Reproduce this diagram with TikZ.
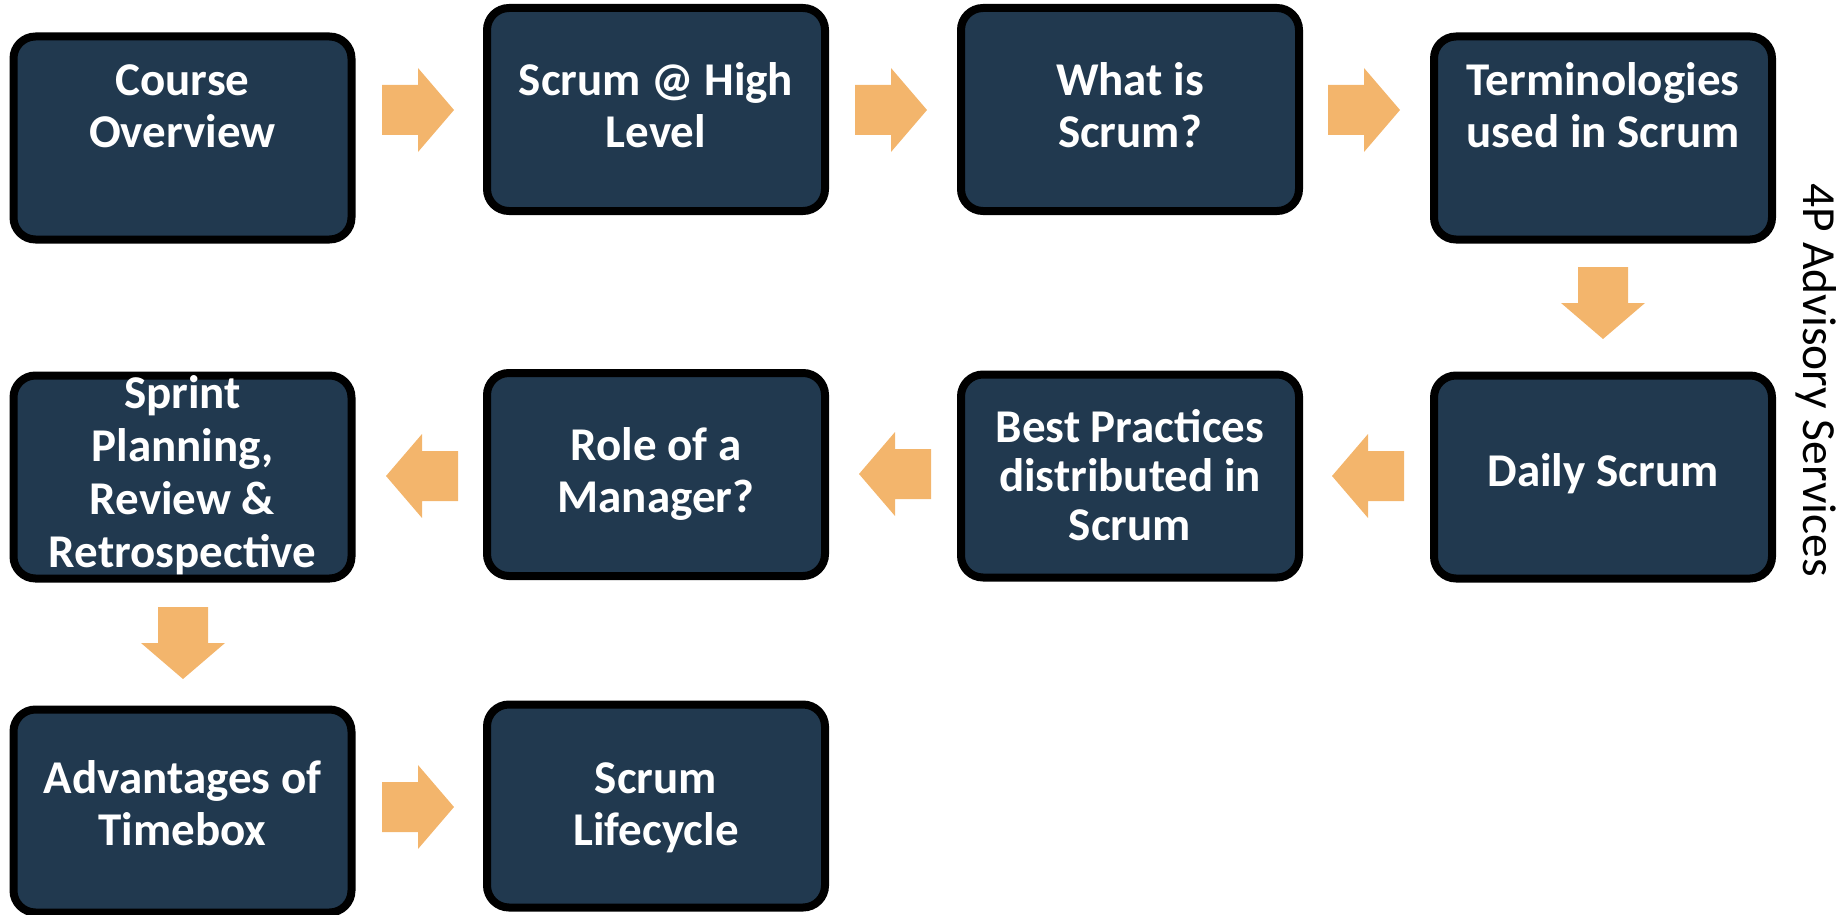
\documentclass[tikz,border=0pt]{standalone}
\usepackage{fontspec}
\setmainfont{Carlito}
\definecolor{boxnavy}{RGB}{33,57,79}
\definecolor{arrorange}{RGB}{243,181,108}
\begin{document}
\begin{tikzpicture}[x=1pt,y=-1pt,
  stepbox/.style={draw=black, line width=8pt, fill=boxnavy, rounded corners=22pt,
    minimum width=338pt, minimum height=203pt, inner sep=0pt},
  lbl/.style={text=white, font=\bfseries\fontsize{47}{52}\selectfont, align=center,
    anchor=base, inner sep=0pt},
  pics/blockarrow/.style={code={
    \fill[arrorange] (0,-25) -- (36,-25) -- (36,-42) -- (72,0) -- (36,42) -- (36,25) -- (0,25) -- cycle;}}
]
\useasboundingbox (0,0) rectangle (1844,915);

% boxes
\node[stepbox] (b1)  at (182.5,138) {};
\node[stepbox] (b2)  at (656,109.5) {};
\node[stepbox] (b3)  at (1130,109.5) {};
\node[stepbox] (b4)  at (1603,138) {};
\node[stepbox] (b5)  at (1603,477) {};
\node[stepbox] (b6)  at (1130,476) {};
\node[stepbox] (b7)  at (656,474.5) {};
\node[stepbox] (b8)  at (182.5,477) {};
\node[stepbox] (b9)  at (182.5,811) {};
\node[stepbox] (b10) at (656,806) {};

% labels (anchored at the baseline of the last line)
\node[lbl] (t1)  at (182.5,148) {Course\\Overview};
\node[lbl] (t2)  at (656,148) {Scrum @ High\\Level};
\node[lbl] (t3)  at (1130,148) {What is\\Scrum?};
\node[lbl] (t4)  at (1603,148) {Terminologies\\used in Scrum};
\node[lbl] (t5)  at (1603,486) {Daily Scrum};
\node[lbl, font=\bfseries\fontsize{47}{49}\selectfont] (t6) at (1130,540) {Best Practices\\distributed in\\Scrum};
\node[lbl] (t7)  at (656,512) {Role of a\\Manager?};
\node[lbl, font=\bfseries\fontsize{47}{53}\selectfont] (t8) at (182.5,567) {Sprint\\Planning,\\Review \&\\Retrospective};
\node[lbl] (t9)  at (182.5,845) {Advantages of\\Timebox};
\node[lbl] (t10) at (656,845) {Scrum\\Lifecycle};

% block arrows
\coordinate (a1) at (382,110);
\coordinate (a2) at (855,110);
\coordinate (a3) at (1328,110);
\coordinate (a4) at (1603,267);
\coordinate (a5) at (1404,476);
\coordinate (a6) at (931,474);
\coordinate (a7) at (458,476);
\coordinate (a8) at (183,607);
\coordinate (a9) at (382,807);
\pic at (a1) {blockarrow};
\pic at (a2) {blockarrow};
\pic at (a3) {blockarrow};
\pic[rotate=-90] at (a4) {blockarrow};
\pic[rotate=180] at (a5) {blockarrow};
\pic[rotate=180] at (a6) {blockarrow};
\pic[rotate=180] at (a7) {blockarrow};
\pic[rotate=-90] at (a8) {blockarrow};
\pic at (a9) {blockarrow};

% side text
\node[rotate=-90, anchor=base, inner sep=0pt, font=\fontsize{47.5}{50}\selectfont] (side) at (1803,380) {4P Advisory Services};
\end{tikzpicture}
\end{document}
